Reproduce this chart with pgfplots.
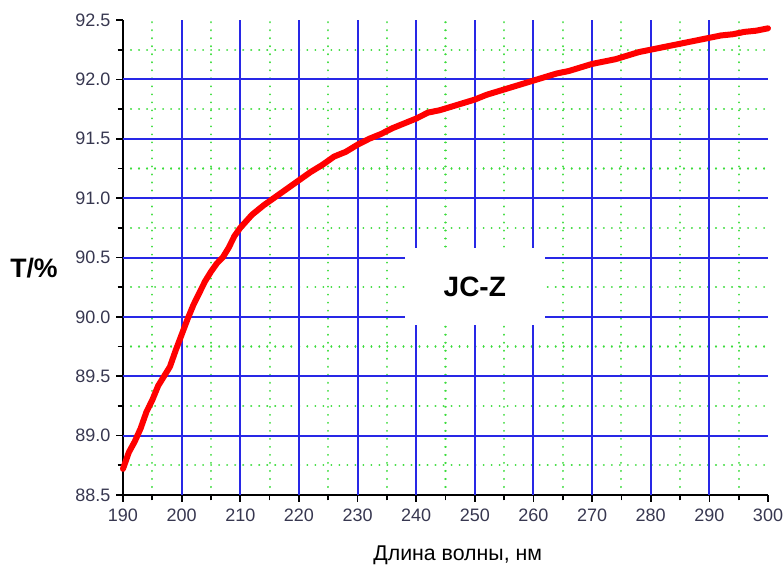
\documentclass[border=0pt]{standalone}
\usepackage{fontspec}
\setmainfont{Liberation Sans}
\usepackage{pgfplots}
\pgfplotsset{compat=1.18}
\definecolor{gridblue}{RGB}{40,40,230}
\definecolor{gridgreen}{RGB}{60,220,60}
\definecolor{ticklab}{RGB}{55,55,80}
\begin{document}
\begin{tikzpicture}
\path[use as bounding box] (-92.25pt,-54.75pt) rectangle (495.75pt,371.25pt);
\begin{axis}[
  at={(0pt,0pt)}, anchor=south west,
  scale only axis, width=483.75pt, height=356.25pt,
  xmin=190, xmax=300, ymin=88.5, ymax=92.5,
  axis x line=bottom, axis y line=left,
  axis line style={-, black, line width=1.5pt},
  xtick={190,200,...,300},
  ytick={88.5,89.0,...,92.5},
  minor x tick num=1, minor y tick num=1,
  xminorgrids=true, yminorgrids=true,
  xmajorgrids=false, ymajorgrids=false,
  minor grid style={gridgreen, line width=1.6pt, dash pattern=on 0.01pt off 6pt, line cap=round},
  tick align=outside,
  major tick length=5pt, minor tick length=4pt,
  every tick/.style={black, line width=1.3pt},
  xticklabel style={font=\fontsize{13.5}{15}\selectfont, text=ticklab, yshift=-2pt},
  yticklabel style={font=\fontsize{13.5}{15}\selectfont, text=ticklab, xshift=-1pt},
  /pgf/number format/assume math mode=true,
  /pgf/number format/.cd, fixed, fixed zerofill, precision=1, /pgfplots/.cd,
  xticklabel={\pgfmathprintnumber[fixed, precision=0, fixed zerofill=false]{\tick}},
  extra x ticks={200,210,...,290},
  extra y ticks={89.0,89.5,...,92.0},
  extra tick style={grid=major, major tick length=0pt, major grid style={gridblue, line width=1.5pt}},
  extra x tick labels={}, extra y tick labels={},
  clip=false,
]
\fill[white] (axis cs:238.1,89.93) rectangle (axis cs:262.0,90.58);
\addplot[red, line width=4.5pt, line join=round, line cap=round] coordinates {
(190,88.72) (191,88.86) (192,88.95) (193,89.06) (194,89.2) (195,89.3) (196,89.42) (197,89.5)
(198,89.58) (199,89.72) (200,89.85) (201,89.98) (202,90.1) (203,90.2) (204,90.3) (205,90.38)
(206,90.45) (207,90.5) (208,90.58) (209,90.68) (210,90.75) (212,90.86) (214,90.94) (216,91.01)
(218,91.08) (220,91.15) (222,91.22) (224,91.28) (226,91.35) (228,91.39) (230,91.45) (232,91.5)
(234,91.54) (236,91.59) (238,91.63) (240,91.67) (242,91.72) (244,91.74) (246,91.77) (248,91.8)
(250,91.83) (252,91.87) (254,91.9) (256,91.93) (258,91.96) (260,91.99) (262,92.02) (264,92.05)
(266,92.07) (268,92.1) (270,92.13) (272,92.15) (274,92.17) (276,92.2) (278,92.23) (280,92.25)
(282,92.27) (284,92.29) (286,92.31) (288,92.33) (290,92.35) (292,92.37) (294,92.38) (296,92.4)
(298,92.41) (300,92.43)
};
\node[font=\fontsize{21}{24}\selectfont\bfseries] at (axis cs:250,90.25) {JC-Z};
\node[font=\fontsize{20}{24}\selectfont\bfseries] at (rel axis cs:-0.138,0.478) {T/\%};
\node[font=\fontsize{16}{19}\selectfont] at ([yshift=-45pt]rel axis cs:0.519,0) {Длина волны, нм};
\end{axis}
\end{tikzpicture}
\end{document}
